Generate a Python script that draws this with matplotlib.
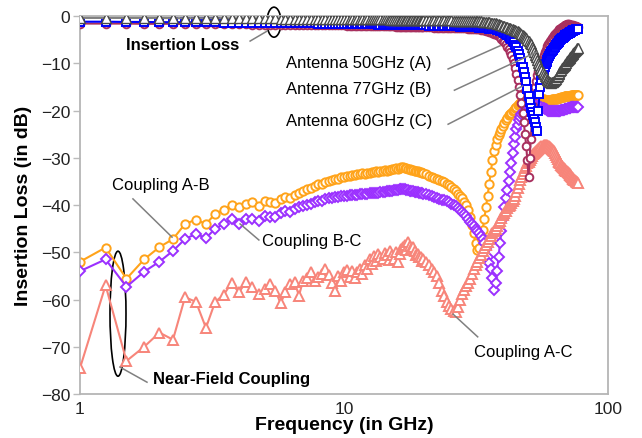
import matplotlib
matplotlib.use("Agg")
import matplotlib.pyplot as plt
from matplotlib.patches import Ellipse
from matplotlib.transforms import ScaledTranslation
from matplotlib.ticker import NullLocator

plt.rcParams['font.family'] = ['Liberation Sans', 'DejaVu Sans']

# frequency points (GHz)
freq = [1.0, 1.25, 1.5, 1.75, 2.0, 2.25, 2.5, 2.75, 3.0, 3.25, 3.5, 3.75, 4.0,
        4.25, 4.5, 4.75, 5.0, 5.25, 5.5, 5.75, 6.0, 6.25, 6.5, 6.75, 7.0, 7.25,
        7.5, 7.75, 8.0, 8.25, 8.5, 8.75, 9.0, 9.25, 9.5, 9.75, 10.0,
        10.25, 10.5, 10.75, 11, 11.25, 11.5, 11.75, 12, 12.25, 12.5,
        12.75, 13, 13.25, 13.5, 13.75, 14, 14.25, 14.5, 14.75, 15,
        15.25, 15.5, 15.75, 16, 16.25, 16.5, 16.75, 17, 17.25, 17.5,
        17.75, 18, 18.25, 18.5, 18.75, 19, 19.25, 19.5, 19.75, 20,
        20.5, 21, 21.5, 22, 22.5, 23, 23.5, 24, 24.5, 25,
        25.5, 26, 26.5, 27, 27.5, 28, 28.5, 29, 29.5, 30,
        30.5, 31, 31.5, 32, 32.5, 33, 33.5, 34, 34.5, 35,
        35.5, 36, 36.5, 37, 37.5, 38, 38.5, 39, 39.5, 40,
        40.5, 41, 41.5, 42, 42.5, 43, 43.5, 44, 44.5, 45,
        45.5, 46, 46.5, 47, 47.5, 48, 48.5, 49, 49.5, 50,
        50.5, 51, 51.5, 52, 52.5, 53, 53.5, 54, 54.5, 55,
        55.5, 56, 56.5, 57, 57.5, 58, 58.5, 59, 59.5, 60,
        60.5, 61, 61.5, 62, 62.5, 63, 63.5, 64, 64.5, 65,
        65.5, 66, 66.5, 67, 67.5, 68, 68.5, 69, 69.5, 70,
        70.5, 71, 71.5, 72, 72.5, 73, 73.5, 74, 74.5, 75,
        75.5, 76, 76.5, 77]

# coupling between antennas (dB)
coupling_ab = [-52.0, -49.0, -55.6, -51.5, -48.9, -47.2, -44.0, -43.1, -44.0, -41.9, -41.0, -40.0, -40.4,
               -39.7, -39.4, -40.2, -39.1, -39.3, -39.6, -38.8, -38.4, -38.6, -37.8, -37.4, -37.1, -36.6,
               -36.3, -36.0, -35.5, -35.6, -35.1, -34.9, -34.8, -34.4, -34.5, -34.1, -34.0,
               -33.9, -33.8, -33.6, -33.7, -33.5, -33.5, -33.3, -33.4, -33.2, -33.2,
               -33.0, -33.1, -32.9, -33.0, -32.8, -32.8, -32.6, -32.7, -32.5, -32.5,
               -32.4, -32.4, -32.2, -32.3, -32.1, -32.0, -32.0, -32.1, -32.2, -32.3,
               -32.4, -32.5, -32.6, -32.7, -32.8, -32.9, -33.0, -33.1, -33.2, -33.3,
               -33.5, -33.8, -34.0, -34.2, -34.5, -34.7, -35.0, -35.2, -35.5, -35.8,
               -36.2, -36.6, -37.1, -37.6, -38.1, -38.6, -39.3, -40.0, -41.0, -42.5,
               -44.2, -46.0, -48.0, -49.5, -49.0, -47.0, -45.2, -43.0, -40.5, -38.0,
               -35.5, -33.0, -30.5, -28.5, -27.2, -26.0, -25.2, -24.5, -23.9, -23.3,
               -22.6, -22.0, -21.5, -21.0, -20.8, -20.6, -20.2, -19.8, -19.5, -19.2,
               -18.9, -18.7, -18.5, -18.3, -18.1, -18.0, -17.9, -17.8, -17.7, -17.6,
               -17.5, -17.5, -17.4, -17.4, -17.4, -17.4, -17.4, -17.4, -17.5, -17.5,
               -17.6, -17.6, -17.6, -17.6, -17.7, -17.7, -17.7, -17.7, -17.7, -17.7,
               -17.7, -17.7, -17.6, -17.6, -17.6, -17.6, -17.5, -17.5, -17.4, -17.4,
               -17.3, -17.3, -17.2, -17.2, -17.1, -17.1, -17.0, -17.0, -17.0, -17.0,
               -16.9, -16.9, -16.9, -16.9, -16.8, -16.8, -16.8, -16.8, -16.8, -16.8,
               -16.7, -16.7, -16.7, -16.7]

coupling_bc = [-54.0, -51.5, -57.3, -54.1, -52.0, -49.7, -47.2, -46.1, -47.0, -45.0, -44.0, -43.0, -44.0,
               -43.0, -43.0, -43.3, -42.3, -42.5, -42.6, -41.7, -41.3, -41.5, -40.8, -40.5, -40.3, -39.9,
               -39.7, -39.4, -39.1, -39.2, -38.8, -38.6, -38.6, -38.3, -38.4, -38.1, -38.0,
               -38.0, -37.9, -37.9, -37.8, -37.8, -37.7, -37.7, -37.6, -37.6, -37.5,
               -37.5, -37.4, -37.5, -37.4, -37.3, -37.3, -37.2, -37.1, -37.1, -37.0,
               -37.0, -36.9, -36.9, -36.8, -36.7, -36.6, -36.6, -36.7, -36.8, -36.9,
               -37.0, -37.1, -37.1, -37.2, -37.3, -37.3, -37.4, -37.5, -37.5, -37.6,
               -37.7, -37.9, -38.1, -38.3, -38.5, -38.7, -38.9, -39.0, -39.2, -39.4,
               -39.7, -40.0, -40.3, -40.6, -41.0, -41.4, -41.9, -42.4, -43.0, -43.6,
               -44.0, -44.5, -45.0, -45.5, -46.0, -46.5, -47.2, -48.0, -49.3, -51.0,
               -52.2, -53.5, -55.5, -58.0, -56.5, -54.0, -51.0, -48.0, -45.5, -43.0,
               -40.5, -38.5, -36.8, -35.0, -33.0, -31.0, -29.0, -27.0, -25.5, -24.0,
               -23.0, -22.0, -21.4, -20.8, -20.5, -20.2, -20.0, -19.8, -19.7, -19.6,
               -19.4, -19.3, -19.2, -19.1, -19.0, -19.0, -19.0, -19.0, -19.0, -19.1,
               -19.2, -19.3, -19.4, -19.5, -19.6, -19.7, -19.8, -19.9, -20.0, -20.0,
               -20.1, -20.1, -20.2, -20.2, -20.2, -20.2, -20.2, -20.2, -20.1, -20.1,
               -20.0, -20.0, -19.9, -19.9, -19.8, -19.8, -19.7, -19.7, -19.6, -19.6,
               -19.5, -19.5, -19.4, -19.4, -19.3, -19.3, -19.3, -19.3, -19.2, -19.2,
               -19.2, -19.2, -19.2, -19.2]

coupling_ac = [-74.5, -57.0, -73.0, -70.0, -67.0, -68.5, -59.5, -60.5, -66.0, -60.5, -59.0, -56.5, -58.5,
               -56.3, -57.4, -58.8, -57.8, -56.7, -58.1, -60.8, -58.5, -56.7, -56.3, -59.2, -56.0, -55.5,
               -54.2, -56.0, -55.2, -54.5, -53.5, -54.8, -56.5, -58.1, -55.0, -56.0, -54.2,
               -53.8, -55.2, -54.0, -55.5, -54.2, -53.5, -54.6, -52.8, -53.6, -51.4,
               -52.5, -50.8, -51.9, -50.4, -51.0, -51.4, -50.2, -50.5, -51.6, -49.7,
               -50.6, -51.5, -50.0, -52.1, -50.3, -49.3, -48.8, -48.5, -49.6, -47.9,
               -48.7, -49.3, -48.9, -49.8, -50.6, -50.4, -50.9, -51.0, -51.8, -51.4,
               -52.0, -52.8, -53.5, -54.2, -55.0, -56.5, -58.2, -59.2, -60.5, -61.3,
               -62.0, -62.4, -62.7, -61.5, -60.0, -58.8, -58.0, -57.2, -56.5, -55.7,
               -54.6, -53.5, -52.8, -52.0, -51.2, -50.5, -49.8, -49.0, -48.4, -47.8,
               -47.1, -46.5, -46.0, -45.5, -45.0, -44.5, -43.9, -43.3, -42.7, -42.2,
               -41.7, -41.2, -40.7, -40.3, -39.9, -39.5, -39.1, -38.7, -38.0, -37.3,
               -36.4, -35.5, -34.7, -34.0, -33.4, -32.8, -32.2, -31.7, -31.2, -30.8,
               -30.4, -30.0, -29.6, -29.3, -29.0, -28.8, -28.5, -28.3, -28.1, -27.9,
               -27.7, -27.6, -27.5, -27.4, -27.3, -27.3, -27.4, -27.5, -27.5, -27.6,
               -27.7, -27.9, -28.1, -28.3, -28.6, -29.0, -29.4, -29.8, -30.2, -30.6,
               -30.9, -31.2, -31.5, -31.8, -32.0, -32.2, -32.4, -32.6, -32.7, -32.9,
               -33.0, -33.2, -33.4, -33.6, -33.8, -34.0, -34.2, -34.4, -34.6, -34.8,
               -34.9, -35.1, -35.2, -35.4]

# insertion loss of each antenna (dB)
loss_50 = [-1.6, -1.6, -1.6, -1.65, -1.65, -1.65, -1.7, -1.7, -1.7, -1.7, -1.75, -1.75, -1.75,
           -1.75, -1.8, -1.8, -1.8, -1.8, -1.8, -1.85, -1.85, -1.85, -1.85, -1.85, -1.9, -1.9,
           -1.9, -1.9, -1.9, -1.95, -1.95, -1.95, -1.95, -1.95, -2.0, -2.0, -2.0,
           -2.02, -2.05, -2.05, -2.05, -2.08, -2.1, -2.1, -2.1, -2.1, -2.1,
           -2.12, -2.15, -2.15, -2.15, -2.15, -2.15, -2.18, -2.2, -2.2, -2.2,
           -2.2, -2.2, -2.22, -2.25, -2.25, -2.25, -2.25, -2.25, -2.28, -2.3,
           -2.3, -2.3, -2.3, -2.3, -2.32, -2.35, -2.35, -2.35, -2.35, -2.35,
           -2.4, -2.4, -2.4, -2.45, -2.45, -2.45, -2.5, -2.5, -2.5, -2.5,
           -2.55, -2.55, -2.55, -2.55, -2.6, -2.6, -2.6, -2.6, -2.65, -2.65,
           -2.68, -2.7, -2.75, -2.8, -2.85, -2.9, -2.95, -3.0, -3.1, -3.2,
           -3.3, -3.4, -3.55, -3.7, -3.85, -4.0, -4.2, -4.5, -4.8, -5.2,
           -5.6, -6.0, -6.5, -7.0, -7.6, -8.3, -9.1, -10.0, -11.0, -12.2,
           -13.5, -15.0, -16.7, -18.5, -20.5, -22.5, -25.0, -27.5, -30.5, -34.0,
           -30.0, -26.0, -22.0, -19.0, -16.8, -15.0, -13.7, -12.5, -11.7, -11.0,
           -10.2, -9.5, -8.8, -8.2, -7.7, -7.2, -6.8, -6.4, -6.0, -5.7,
           -5.3, -5.0, -4.7, -4.4, -4.1, -3.9, -3.6, -3.4, -3.2, -3.0,
           -2.85, -2.7, -2.55, -2.4, -2.25, -2.1, -2.0, -1.9, -1.8, -1.7,
           -1.7, -1.75, -1.8, -1.85, -1.9, -1.95, -2.0, -2.05, -2.1, -2.15,
           -2.2, -2.25, -2.3, -2.35]

loss_77 = [-1.2, -1.2, -1.25, -1.25, -1.3, -1.3, -1.3, -1.35, -1.35, -1.35, -1.4, -1.4, -1.4,
           -1.4, -1.45, -1.45, -1.45, -1.45, -1.5, -1.5, -1.5, -1.5, -1.5, -1.55, -1.55, -1.55,
           -1.55, -1.55, -1.6, -1.6, -1.6, -1.6, -1.6, -1.6, -1.65, -1.65, -1.65,
           -1.68, -1.7, -1.7, -1.7, -1.7, -1.7, -1.72, -1.75, -1.75, -1.75,
           -1.75, -1.75, -1.78, -1.8, -1.8, -1.8, -1.8, -1.8, -1.82, -1.85,
           -1.85, -1.85, -1.85, -1.85, -1.88, -1.9, -1.9, -1.9, -1.9, -1.9,
           -1.92, -1.95, -1.95, -1.95, -1.95, -1.95, -1.98, -2.0, -2.0, -2.0,
           -2.0, -2.05, -2.05, -2.05, -2.1, -2.1, -2.1, -2.15, -2.15, -2.15,
           -2.2, -2.2, -2.2, -2.2, -2.25, -2.25, -2.25, -2.25, -2.3, -2.3,
           -2.33, -2.35, -2.38, -2.4, -2.43, -2.45, -2.48, -2.5, -2.55, -2.6,
           -2.65, -2.7, -2.75, -2.8, -2.85, -2.9, -3.0, -3.1, -3.25, -3.4,
           -3.6, -3.8, -4.05, -4.3, -4.6, -4.9, -5.25, -5.6, -6.1, -6.6,
           -7.3, -8.0, -8.9, -9.8, -10.8, -11.8, -12.9, -14.0, -15.5, -17.0,
           -18.3, -19.5, -20.3, -21.0, -21.8, -22.5, -23.4, -24.3, -20.0, -16.5,
           -15.0, -13.5, -12.4, -11.5, -10.8, -10.2, -9.7, -9.2, -8.8, -8.4,
           -8.0, -7.7, -7.4, -7.1, -6.8, -6.5, -6.2, -6.0, -5.7, -5.5,
           -5.3, -5.1, -4.9, -4.7, -4.55, -4.4, -4.25, -4.1, -3.95, -3.8,
           -3.7, -3.6, -3.5, -3.4, -3.3, -3.2, -3.1, -3.0, -2.95, -2.9,
           -2.85, -2.8, -2.75, -2.7]

loss_60 = [-0.4, -0.4, -0.4, -0.4, -0.4, -0.45, -0.45, -0.45, -0.45, -0.45, -0.45, -0.5, -0.5,
           -0.5, -0.5, -0.5, -0.5, -0.5, -0.5, -0.55, -0.55, -0.55, -0.55, -0.55, -0.55, -0.55,
           -0.55, -0.6, -0.6, -0.6, -0.6, -0.6, -0.6, -0.6, -0.6, -0.6, -0.6,
           -0.62, -0.65, -0.65, -0.65, -0.65, -0.65, -0.65, -0.65, -0.68, -0.7,
           -0.7, -0.7, -0.7, -0.7, -0.7, -0.7, -0.7, -0.7, -0.72, -0.75,
           -0.75, -0.75, -0.75, -0.75, -0.75, -0.75, -0.75, -0.75, -0.78, -0.8,
           -0.8, -0.8, -0.8, -0.8, -0.8, -0.8, -0.8, -0.8, -0.8, -0.8,
           -0.85, -0.85, -0.85, -0.85, -0.85, -0.9, -0.9, -0.9, -0.9, -0.9,
           -0.9, -0.95, -0.95, -0.95, -0.95, -0.95, -1.0, -1.0, -1.0, -1.0,
           -1.03, -1.05, -1.08, -1.1, -1.13, -1.15, -1.18, -1.2, -1.25, -1.3,
           -1.35, -1.4, -1.45, -1.5, -1.58, -1.65, -1.75, -1.85, -1.97, -2.1,
           -2.2, -2.3, -2.4, -2.5, -2.6, -2.7, -2.8, -2.9, -3.0, -3.1,
           -3.25, -3.4, -3.55, -3.7, -3.95, -4.2, -4.45, -4.7, -5.0, -5.3,
           -5.65, -6.0, -6.5, -7.0, -7.6, -8.2, -8.75, -9.3, -9.85, -10.4,
           -10.9, -11.4, -11.85, -12.3, -12.65, -13.0, -13.3, -13.6, -13.8, -14.0,
           -14.05, -14.1, -14.05, -14.0, -13.8, -13.6, -13.3, -13.0, -12.65, -12.3,
           -12.0, -11.7, -11.4, -11.1, -10.85, -10.6, -10.35, -10.1, -9.85, -9.6,
           -9.35, -9.1, -8.85, -8.6, -8.4, -8.2, -8.0, -7.8, -7.6, -7.4,
           -7.2, -7.0, -6.85, -6.7]

fig = plt.figure(figsize=(6.42, 4.39), dpi=100)
ax = fig.add_axes([0.1246, 0.1002, 0.8224, 0.861])
ax.set_xscale('log')


def trace(y, color, marker, ms, z, edge=None, mew=1.4):
    ax.plot(freq, y, color=color, lw=1.5, marker=marker, ms=ms, mfc='white',
            mec=edge or color, mew=mew, zorder=z)


trace(coupling_ab, '#FFA31A', 'o', 6.0, 2)
trace(coupling_bc, '#9B30FF', 'D', 5.0, 3)
trace(coupling_ac, '#F7857A', '^', 7.0, 4)
trace(loss_50, '#A8305E', 'o', 5.5, 5)
trace(loss_77, '#0000FF', 's', 5.5, 6)
trace(loss_60, '#808080', '^', 6.5, 7, edge='#484848', mew=1.0)

ax.set_xlim(1, 100)
ax.set_ylim(-80, 0)
ax.set_xticks([1, 10, 100])
ax.set_xticklabels(['1', '10', '100'])
ax.xaxis.set_minor_locator(NullLocator())
ax.set_yticks(range(-80, 1, 10))
ax.tick_params(axis='x', length=0, pad=5, labelsize=12.5, colors='#222222')
ax.tick_params(axis='y', length=5, width=1, color='#bbbbbb', labelsize=12.5,
               labelcolor='#222222', pad=2)
for side in ['left', 'bottom', 'top', 'right']:
    ax.spines[side].set_color('#b5b5b5')
    ax.spines[side].set_linewidth(1.3)

ax.set_xlabel('Frequency (in GHz)', fontsize=14, fontweight='bold', labelpad=0)
ax.set_ylabel('Insertion Loss (in dB)', fontsize=14, fontweight='bold', labelpad=6)

# annotations
grey = '#808080'


def ring(x, y, w, h):
    e = Ellipse((0, 0), w, h, fill=False, edgecolor='black', lw=1.2, clip_on=False,
                transform=fig.dpi_scale_trans + ScaledTranslation(x, y, ax.transData))
    ax.add_patch(e)


ring(5.43, -1.3, 0.14, 0.30)
ax.plot([4.41, 5.11], [-5.3, -3.2], color=grey, lw=1.1, zorder=8)
ax.text(2.45, -6.1, 'Insertion Loss', fontsize=12, fontweight='bold', ha='center', va='center')

ring(1.393, -63.0, 0.16, 1.25)
ax.plot([1.417, 1.794], [-74.3, -77.5], color=grey, lw=1.1, zorder=8)
ax.text(1.89, -76.8, 'Near-Field Coupling', fontsize=12, fontweight='bold', va='center')

ax.text(6.03, -9.9, 'Antenna 50GHz (A)', fontsize=12, va='center')
ax.text(6.03, -15.4, 'Antenna 77GHz (B)', fontsize=12, va='center')
ax.text(6.03, -22.2, 'Antenna 60GHz (C)', fontsize=12, va='center')
ax.plot([24.8, 39.0], [-11.2, -6.3], color=grey, lw=1.1, zorder=8)
ax.plot([26.2, 53.8], [-15.7, -7.6], color=grey, lw=1.1, zorder=8)
ax.plot([24.8, 47.5], [-22.9, -14.8], color=grey, lw=1.1, zorder=8)

ax.text(1.322, -35.6, 'Coupling A-B', fontsize=12, va='center')
ax.plot([1.587, 2.232], [-38.7, -46.8], color=grey, lw=1.1, zorder=8)
ax.text(4.89, -47.6, 'Coupling B-C', fontsize=12, va='center')
ax.plot([4.04, 4.76], [-44.0, -47.4], color=grey, lw=1.1, zorder=8)
ax.text(31.0, -71.1, 'Coupling A-C', fontsize=12, va='center')
ax.plot([25.9, 32.1], [-63.1, -67.9], color=grey, lw=1.1, zorder=8)

fig.savefig('out.png', dpi=100)
